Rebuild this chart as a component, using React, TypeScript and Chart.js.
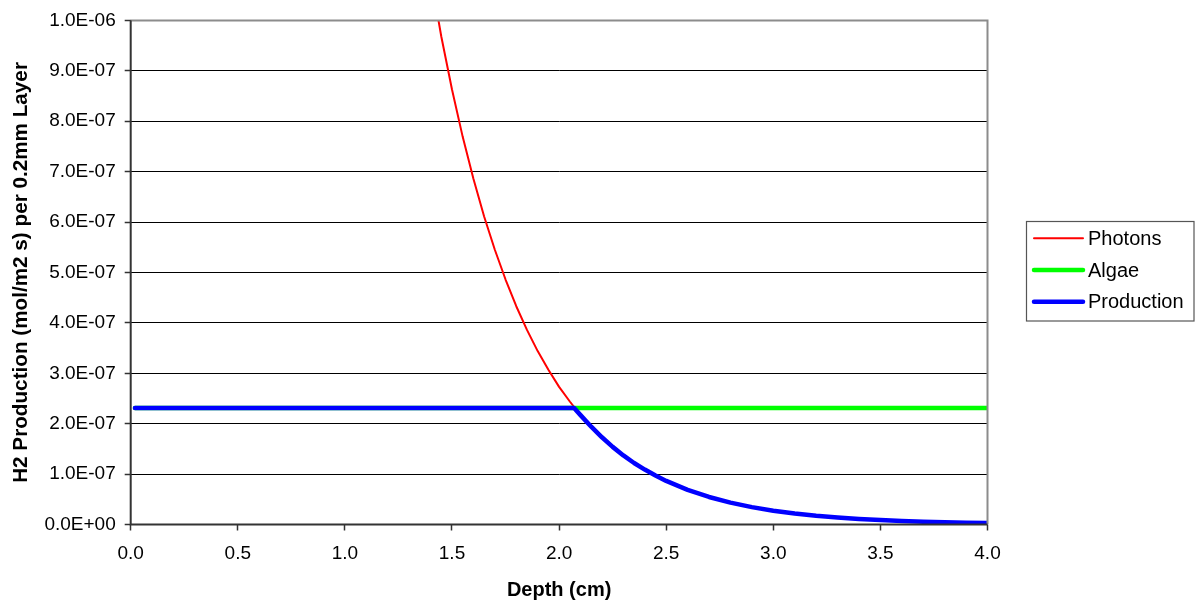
import React, { useEffect, useRef } from "react";
import { Chart, registerables } from "chart.js";

Chart.register(...registerables);

const FONT = "'Liberation Sans', Arial, sans-serif";

// X ticks (cm) and Y tick range
const xTickMin = 0;
const xTickMax = 4;
const xTickStep = 0.5;
const yTickMin = 0;
const yTickMax = 1e-6;
const yTickStep = 1e-7;

// Photons series
const photonDepth = [
  1.3, 1.35, 1.4, 1.45, 1.5, 1.55, 1.6, 1.65, 1.7, 1.75, 1.8, 1.85, 1.9, 1.95,
  2.0, 2.05, 2.1, 2.15, 2.2, 2.25, 2.3, 2.35, 2.4, 2.45, 2.5, 2.6, 2.7, 2.8,
  2.9, 3.0, 3.1, 3.2, 3.3, 3.4, 3.5, 3.6, 3.7, 3.8, 3.9, 4.0,
];
const photonValues = [
  1.37e-6, 1.22e-6, 1.09e-6, 9.68e-7, 8.63e-7, 7.69e-7, 6.86e-7, 6.11e-7,
  5.45e-7, 4.86e-7, 4.33e-7, 3.86e-7, 3.44e-7, 3.07e-7, 2.73e-7, 2.44e-7,
  2.17e-7, 1.94e-7, 1.73e-7, 1.54e-7, 1.37e-7, 1.22e-7, 1.09e-7, 9.71e-8,
  8.65e-8, 6.88e-8, 5.46e-8, 4.34e-8, 3.45e-8, 2.74e-8, 2.18e-8, 1.73e-8,
  1.38e-8, 1.09e-8, 8.7e-9, 6.9e-9, 5.5e-9, 4.4e-9, 3.5e-9, 2.8e-9,
];

// Algae series
const algaeDepth = [0.02, 4.0];
const algaeValues = [2.31e-7, 2.31e-7];

// Production series
const productionDepth = [
  0.02, 2.07, 2.1, 2.15, 2.2, 2.25, 2.3, 2.35, 2.4, 2.45, 2.5, 2.6, 2.7, 2.8,
  2.9, 3.0, 3.1, 3.2, 3.3, 3.4, 3.5, 3.6, 3.7, 3.8, 3.9, 4.0,
];
const productionValues = [
  2.31e-7, 2.31e-7, 2.17e-7, 1.94e-7, 1.73e-7, 1.54e-7, 1.37e-7, 1.22e-7,
  1.09e-7, 9.71e-8, 8.65e-8, 6.88e-8, 5.46e-8, 4.34e-8, 3.45e-8, 2.74e-8,
  2.18e-8, 1.73e-8, 1.38e-8, 1.09e-8, 8.7e-9, 6.9e-9, 5.5e-9, 4.4e-9, 3.5e-9,
  2.8e-9,
];

const seriesNames = ["Photons", "Algae", "Production"];
const seriesColors = ["#ff0000", "#00ff00", "#0000ff"];
const seriesWidths = [2, 4.5, 4.5];

const xTitle = "Depth (cm)";
const yTitle = "H2 Production (mol/m2 s) per 0.2mm Layer";

function toPoints(xs: number[], ys: number[]) {
  return xs.map((x, i) => ({ x, y: ys[i] }));
}

function fmtExp(v: number): string {
  if (v === 0) return "0.0E+00";
  const [m, e] = v.toExponential(1).split("e");
  const n = parseInt(e, 10);
  return m + "E" + (n < 0 ? "-" : "+") + String(Math.abs(n)).padStart(2, "0");
}

const framePlugin = {
  id: "frameAndLegend",
  afterDraw(chart: any) {
    const { ctx, chartArea } = chart;
    const { left, right, top, bottom } = chartArea;
    ctx.save();
    // top and right gray border
    ctx.strokeStyle = "#8c8c8c";
    ctx.lineWidth = 2;
    ctx.beginPath();
    ctx.moveTo(left, top);
    ctx.lineTo(right, top);
    ctx.lineTo(right, bottom);
    ctx.stroke();
    // left and bottom axis lines
    ctx.strokeStyle = "#333333";
    ctx.lineWidth = 2;
    ctx.beginPath();
    ctx.moveTo(left, top);
    ctx.lineTo(left, bottom);
    ctx.lineTo(right, bottom);
    ctx.stroke();

    // legend
    const bx = 1026.5;
    const by = 221.5;
    const bw = 167.5;
    const bh = 99.5;
    ctx.fillStyle = "#ffffff";
    ctx.fillRect(bx, by, bw, bh);
    ctx.strokeStyle = "#555555";
    ctx.lineWidth = 1.2;
    ctx.strokeRect(bx, by, bw, bh);
    const rows = [238.3, 270, 301.7];
    ctx.font = "20px " + FONT;
    ctx.textBaseline = "middle";
    ctx.textAlign = "left";
    seriesNames.forEach((name, i) => {
      const y = rows[i];
      ctx.strokeStyle = seriesColors[i];
      ctx.lineWidth = seriesWidths[i];
      ctx.lineCap = "round";
      ctx.beginPath();
      ctx.moveTo(1034, y);
      ctx.lineTo(1083, y);
      ctx.stroke();
      ctx.fillStyle = "#000000";
      ctx.fillText(name, 1088, y + 1);
    });
    ctx.restore();
  },
};

export default function App() {
  const canvasRef = useRef<HTMLCanvasElement | null>(null);

  useEffect(() => {
    const canvas = canvasRef.current;
    if (!canvas) return;
    Chart.defaults.font.family = FONT;
    Chart.defaults.color = "#000000";

    const common = {
      pointRadius: 0,
      pointHoverRadius: 0,
      fill: false,
      tension: 0,
      borderCapStyle: "round" as const,
      borderJoinStyle: "round" as const,
    };

    const chart = new Chart(canvas, {
      type: "line",
      data: {
        datasets: [
          {
            ...common,
            label: seriesNames[0],
            data: toPoints(photonDepth, photonValues),
            borderColor: seriesColors[0],
            borderWidth: seriesWidths[0],
            order: 3,
          },
          {
            ...common,
            label: seriesNames[1],
            data: toPoints(algaeDepth, algaeValues),
            borderColor: seriesColors[1],
            borderWidth: seriesWidths[1],
            order: 2,
          },
          {
            ...common,
            label: seriesNames[2],
            data: toPoints(productionDepth, productionValues),
            borderColor: seriesColors[2],
            borderWidth: seriesWidths[2],
            order: 1,
          },
        ],
      },
      options: {
        animation: false,
        responsive: false,
        maintainAspectRatio: false,
        parsing: true,
        layout: { padding: { left: 0, top: 17.3, right: 207.5, bottom: 0 } },
        plugins: {
          legend: { display: false },
          tooltip: { enabled: false },
          title: { display: false },
        },
        scales: {
          x: {
            type: "linear",
            min: xTickMin,
            max: xTickMax,
            afterFit(scale: any) {
              scale.height = 604 - 524.5;
            },
            ticks: {
              stepSize: xTickStep,
              autoSkip: false,
              maxRotation: 0,
              padding: 12,
              color: "#000",
              font: { size: 19, family: FONT },
              callback: (v: any) => Number(v).toFixed(1),
            },
            grid: {
              display: true,
              drawOnChartArea: false,
              drawTicks: true,
              tickLength: 6,
              tickColor: "#333333",
              tickWidth: 1.5,
            },
            border: { display: false },
            title: {
              display: true,
              text: xTitle,
              color: "#000",
              font: { size: 20, weight: "bold", family: FONT },
              padding: { top: 0, bottom: 2 },
            },
          },
          y: {
            type: "linear",
            min: yTickMin,
            max: yTickMax,
            afterFit(scale: any) {
              scale.width = 130.7;
            },
            ticks: {
              stepSize: yTickStep,
              autoSkip: false,
              padding: 9,
              color: "#000",
              font: { size: 19, family: FONT },
              callback: (v: any) => fmtExp(Number(v)),
            },
            grid: {
              display: true,
              color: "#000000",
              lineWidth: 1,
              drawTicks: true,
              tickLength: 6,
              tickColor: "#333333",
              tickWidth: 1.5,
            },
            border: { display: false },
            title: {
              display: true,
              text: yTitle,
              color: "#000",
              font: { size: 20.7, weight: "bold", family: FONT },
              padding: { top: 8.5, bottom: 0 },
            },
          },
        },
      },
      plugins: [framePlugin],
    });

    return () => {
      chart.destroy();
    };
  }, []);

  return (
    <div
      style={{
        position: "fixed",
        left: 0,
        top: 0,
        width: 1195,
        height: 604,
        background: "#ffffff",
      }}
    >
      <canvas
        ref={canvasRef}
        width={1195}
        height={604}
        style={{ display: "block", width: 1195, height: 604 }}
      />
    </div>
  );
}
